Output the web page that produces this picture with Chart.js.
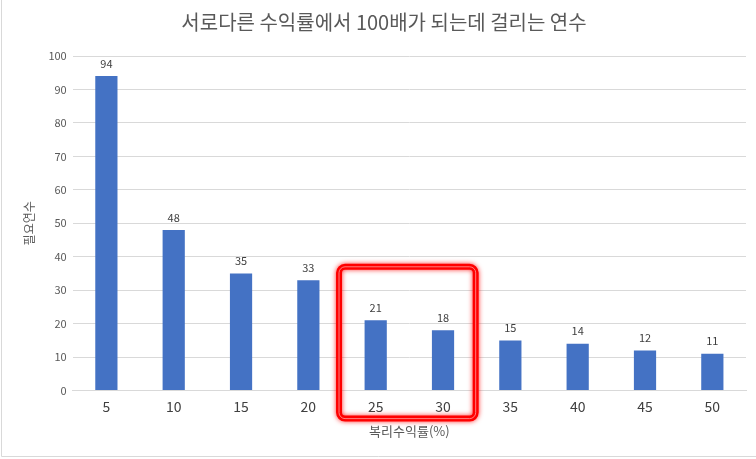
<!DOCTYPE html>
<html>
<head>
<meta charset="utf-8">
<script src="https://cdn.jsdelivr.net/npm/chart.js@4"></script>
<style>
html,body{margin:0;padding:0;background:#fff;}
canvas{display:block;}
</style>
</head>
<body>
<canvas id="c" width="756" height="459"></canvas>
<script>
const categories = ['5','10','15','20','25','30','35','40','45','50'];
const years = [94, 48, 35, 33, 21, 18, 15, 14, 12, 11];
const yTicks = [0,10,20,30,40,50,60,70,80,90,100];
const titleText = '서로다른 수익률에서 100배가 되는데 걸리는 연수';
const xTitle = '복리수익률(%)';
const yTitle = '필요연수';
const highlight = ['25','30'];

const FONT = "'Noto Sans CJK KR', 'Noto Sans', sans-serif";

const labelsPlugin = {
  id: 'labels',
  afterDatasetsDraw(chart) {
    const ctx = chart.ctx;
    const meta = chart.getDatasetMeta(0);
    ctx.save();
    ctx.font = '11px ' + FONT;
    ctx.fillStyle = '#404040';
    ctx.textAlign = 'center';
    ctx.textBaseline = 'bottom';
    meta.data.forEach((bar, i) => {
      ctx.fillText(String(years[i]), bar.x, bar.y - 7);
    });
    ctx.restore();
  }
};

const framePlugin = {
  id: 'frame',
  afterDraw(chart) {
    const ctx = chart.ctx;
    const xs = chart.scales.x, ys = chart.scales.y;
    ctx.save();
    ctx.strokeStyle = '#d9d9d9';
    ctx.lineWidth = 1;
    ctx.beginPath();
    ctx.moveTo(1.5, 0); ctx.lineTo(1.5, 456.5); ctx.lineTo(756, 456.5);
    ctx.stroke();
    const i0 = categories.indexOf(highlight[0]);
    const i1 = categories.indexOf(highlight[highlight.length-1]);
    const step = xs.getPixelForValue(1) - xs.getPixelForValue(0);
    const left = xs.getPixelForValue(i0) - step/2 - 3;
    const right = xs.getPixelForValue(i1) + step/2 - 1;
    const top = ys.getPixelForValue(37);
    const bottom = ys.getPixelForValue(0) + 28;
    ctx.strokeStyle = '#ff0000';
    ctx.lineWidth = 6;
    ctx.shadowColor = 'rgba(255,0,0,0.8)';
    ctx.shadowBlur = 5;
    ctx.beginPath();
    ctx.roundRect(left, top, right-left, bottom-top, 6);
    ctx.stroke();
    ctx.shadowBlur = 0;
    ctx.strokeStyle = 'rgba(255,140,140,0.9)';
    ctx.lineWidth = 1;
    ctx.beginPath();
    ctx.roundRect(left, top, right-left, bottom-top, 6);
    ctx.stroke();
    ctx.restore();
  }
};

new Chart(document.getElementById('c'), {
  type: 'bar',
  data: {
    labels: categories,
    datasets: [{
      data: years,
      backgroundColor: '#4472c4',
      barPercentage: 0.66,
      categoryPercentage: 0.5
    }]
  },
  options: {
    responsive: false,
    animation: false,
    layout: { padding: { left: 22, right: 10, top: 0, bottom: 20 } },
    plugins: {
      legend: { display: false },
      tooltip: { enabled: false },
      title: {
        display: true,
        text: titleText,
        color: '#595959',
        font: { family: FONT, size: 20, weight: 'normal' },
        padding: { top: 10, bottom: 22 }
      }
    },
    scales: {
      x: {
        grid: { display: false, drawTicks: false },
        border: { display: true, color: '#d9d9d9' },
        ticks: { color: '#404040', font: { family: FONT, size: 14 }, padding: 8 },
        title: { display: true, text: xTitle, color: '#595959', font: { family: FONT, size: 13 }, padding: { top: 0, bottom: 0 } }
      },
      y: {
        min: 0, max: 100,
        afterBuildTicks(axis) { axis.ticks = yTicks.map(v => ({ value: v })); },
        grid: { color: '#d9d9d9', drawTicks: false },
        border: { display: false },
        ticks: { color: '#595959', font: { family: FONT, size: 11 }, padding: 6 },
        title: { display: true, text: yTitle, color: '#595959', font: { family: FONT, size: 12 }, padding: { top: 0, bottom: 6 } }
      }
    }
  },
  plugins: [labelsPlugin, framePlugin]
});
</script>
</body>
</html>
